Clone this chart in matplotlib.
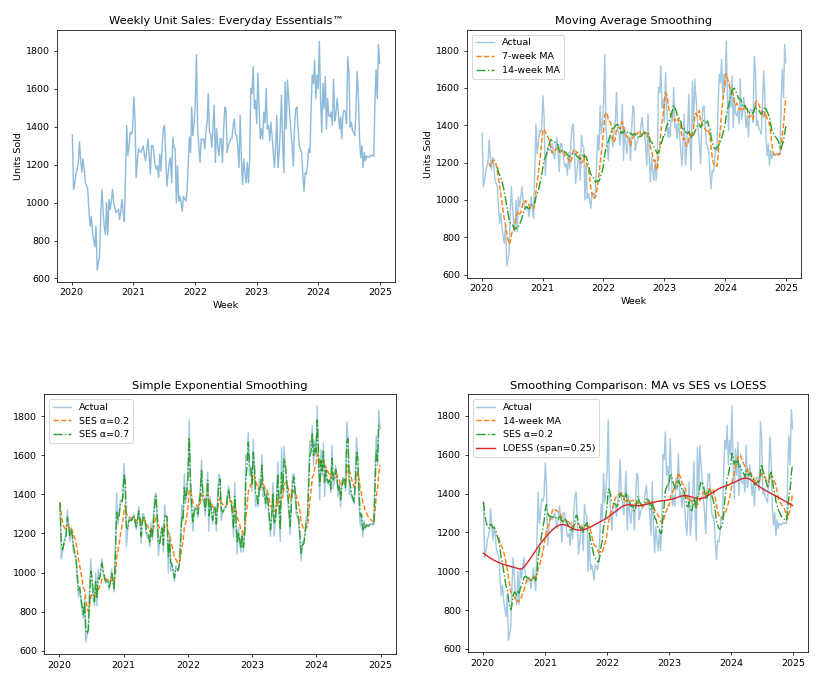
import numpy as np
import pandas as pd
import matplotlib
matplotlib.use("Agg")
import matplotlib.pyplot as plt
import matplotlib.dates as mdates

start_date = "2020-01-05"
units_sold = [
    1357, 1070, 1100, 1150, 1176, 1205, 1321, 1230, 1160, 1230,
    1180, 1105, 1090, 1070, 960, 875, 928, 850, 803, 767,
    875, 644, 680, 715, 928, 1070, 960, 870, 830, 999,
    830, 1017, 964, 1010, 1070, 999, 970, 946, 955, 964,
    910, 960, 1017, 950, 901, 1150, 1406, 1247, 1300, 1371,
    1360, 1389, 1557, 1442, 1132, 1220, 1283, 1270, 1265, 1280,
    1300, 1250, 1220, 1280, 1336, 1250, 1150, 1300, 1300, 1265,
    1200, 1176, 1194, 1132, 1256, 1167, 1300, 1389, 1407, 1247,
    1087, 1150, 1212, 1238, 1105, 1345, 1291, 1283, 999, 1194,
    1008, 1034, 1000, 955, 1034, 1020, 1008, 1052, 1200, 1345,
    1265, 1504, 1353, 1420, 1522, 1779, 1389, 1300, 1212, 1336,
    1330, 1336, 1283, 1371, 1420, 1575, 1371, 1362, 1291, 1400,
    1513, 1212, 1389, 1300, 1247, 1336, 1336, 1212, 1380, 1504,
    1487, 1265, 1300, 1318, 1336, 1340, 1400, 1442, 1362, 1353,
    1290, 1185, 1460, 1230, 1096, 1230, 1158, 1105, 1212, 1105,
    1221, 1602, 1575, 1717, 1495, 1540, 1416, 1681, 1513, 1336,
    1389, 1336, 1478, 1420, 1602, 1389, 1407, 1327, 1424, 1350,
    1265, 1185, 1300, 1460, 1185, 1265, 1400, 1566, 1300, 1158,
    1637, 1389, 1646, 1550, 1460, 1371, 1300, 1194, 1400, 1495,
    1504, 1389, 1300, 1280, 1265, 1150, 1061, 1158, 1149, 1200,
    1283, 1265, 1500, 1673, 1628, 1752, 1548, 1673, 1600, 1850,
    1550, 1371, 1628, 1495, 1664, 1389, 1550, 1460, 1451, 1478,
    1407, 1650, 1430, 1469, 1549, 1478, 1389, 1451, 1336, 1469,
    1487, 1478, 1416, 1770, 1690, 1398, 1424, 1380, 1370, 1353,
    1500, 1690, 1566, 1336, 1238, 1300, 1185, 1265, 1221, 1247,
    1240, 1238, 1250, 1245, 1250, 1245, 1531, 1699, 1548, 1832,
    1734,
]

ma_windows = [7, 14]
ses_alphas = [0.2, 0.7]
loess_span = 0.25

dates = pd.date_range(start_date, periods=len(units_sold), freq="W")
y = pd.Series(units_sold, index=dates, dtype=float)

ma7 = y.rolling(ma_windows[0]).mean()
ma14 = y.rolling(ma_windows[1]).mean()


def ses(series, alpha):
    return series.ewm(alpha=alpha, adjust=False).mean()


ses02 = ses(y, ses_alphas[0])
ses07 = ses(y, ses_alphas[1])


def lowess(xv, yv, frac, iters=1):
    n = len(xv)
    r = int(np.ceil(frac * n))
    fitted = np.zeros(n)
    rob = np.ones(n)
    for it in range(iters + 1):
        for i in range(n):
            d = np.abs(xv - xv[i])
            h = np.sort(d)[r - 1]
            w = np.clip(d / h, 0, 1)
            w = (1 - w ** 3) ** 3 * rob
            W_ = w.sum()
            xm = (w * xv).sum() / W_
            ym = (w * yv).sum() / W_
            b = (w * (xv - xm) * (yv - ym)).sum() / max((w * (xv - xm) ** 2).sum(), 1e-12)
            fitted[i] = ym + b * (xv[i] - xm)
        res = yv - fitted
        s = np.median(np.abs(res))
        u = np.clip(res / (6 * s), -1, 1)
        rob = (1 - u ** 2) ** 2
    return fitted


xnum = np.arange(len(y), dtype=float)
loess = pd.Series(lowess(xnum, y.values, loess_span), index=dates)

W, H = 816, 681
fig = plt.figure(figsize=(12, 10), dpi=68)


def ax_px(l, t, r, b):
    return fig.add_axes([l / W, 1 - b / H, (r - l) / W, (b - t) / H])


ax1 = ax_px(57, 30, 395, 282)
ax2 = ax_px(467, 30, 801, 278)
ax3 = ax_px(44, 395, 396, 655)
ax4 = ax_px(468, 395, 808, 653)

c0, c1, c2, c3 = "#1f77b4", "#ff7f0e", "#2ca02c", "#d62728"

ax1.plot(y.index, y.values, color=c0, alpha=0.5, lw=1.5)
ax1.set_title("Weekly Unit Sales: Everyday Essentials\u2122")
ax1.set_xlabel("Week")
ax1.set_ylabel("Units Sold")

ax2.plot(y.index, y.values, color=c0, alpha=0.4, lw=1.5, label="Actual")
ax2.plot(ma7.index, ma7.values, color=c1, ls="--", lw=1.5, label="7-week MA")
ax2.plot(ma14.index, ma14.values, color=c2, ls="-.", lw=1.5, label="14-week MA")
ax2.set_title("Moving Average Smoothing")
ax2.set_xlabel("Week")
ax2.set_ylabel("Units Sold")
ax2.legend(loc="upper left")

ax3.plot(y.index, y.values, color=c0, alpha=0.4, lw=1.5, label="Actual")
ax3.plot(ses02.index, ses02.values, color=c1, ls="--", lw=1.5, label="SES \u03b1=0.2")
ax3.plot(ses07.index, ses07.values, color=c2, ls="-.", lw=1.5, label="SES \u03b1=0.7")
ax3.set_title("Simple Exponential Smoothing")
ax3.legend(loc="upper left")

ax4.plot(y.index, y.values, color=c0, alpha=0.4, lw=1.5, label="Actual")
ax4.plot(ma14.index, ma14.values, color=c1, ls="--", lw=1.5, label="14-week MA")
ax4.plot(ses02.index, ses02.values, color=c2, ls="-.", lw=1.5, label="SES \u03b1=0.2")
ax4.plot(loess.index, loess.values, color=c3, lw=1.5, label="LOESS (span=0.25)")
ax4.set_title("Smoothing Comparison: MA vs SES vs LOESS")
ax4.legend(loc="upper left")

for ax in (ax1, ax2, ax3, ax4):
    ax.xaxis.set_major_locator(mdates.YearLocator())
    ax.xaxis.set_major_formatter(mdates.DateFormatter("%Y"))
    ax.set_yticks([600, 800, 1000, 1200, 1400, 1600, 1800])

fig.savefig("out.png", dpi=68)
